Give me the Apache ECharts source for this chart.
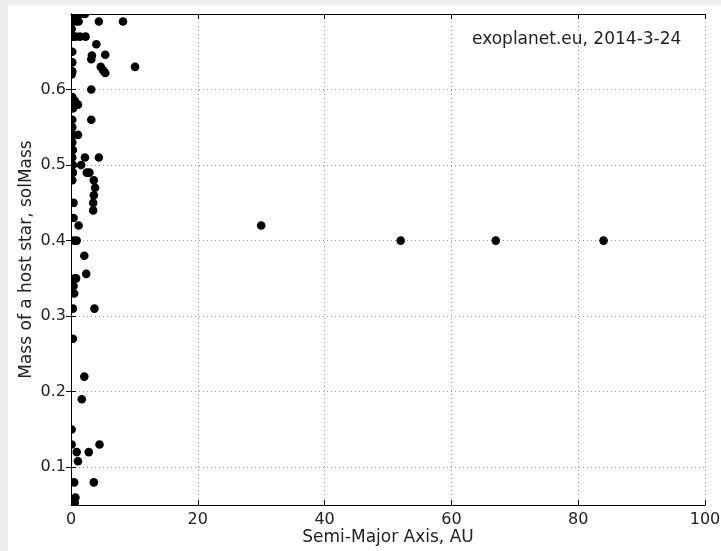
<!DOCTYPE html>
<html>
<head>
<meta charset="utf-8">
<script src="https://cdn.jsdelivr.net/npm/echarts@6/dist/echarts.min.js"></script>
<style>
html,body{margin:0;padding:0;background:#eeeeee;width:721px;height:551px;overflow:hidden;}
#c{position:absolute;left:8px;top:5px;width:713px;height:546px;background:#fff;}
</style>
</head>
<body>
<div id="c"></div>
<script>
// Semi-major axis (AU) and host star mass (solMass)
const semiMajorAxis = [
  0.2,0.8,1.5,2.2,
  0.3,0.8,1.2,4.4,8.2,
  0.1,
  0.3,0.7,1.4,2.3,
  4.0,
  0.2,3.3,5.4,3.2,
  0.2,4.7,10.1,5.1,5.4,0.2,
  0.1,
  3.2,
  0.2,0.6,1.1,0.3,
  3.2,0.2,0.2,
  1.1,0.3,0.2,0.3,
  2.2,4.4,0.2,
  1.6,0.3,
  2.5,2.9,0.3,
  3.6,0.2,
  3.8,
  3.6,
  3.5,0.4,
  3.5,
  0.4,
  1.2,30,
  0.4,0.9,52,67,84,
  2.1,
  2.4,
  0.6,0.8,
  0.4,0.5,
  0.3,3.7,
  0.3,
  2.1,
  1.7,
  0.1,
  0.1,4.5,
  0.9,2.8,
  1.1,
  0.5,3.6,
  0.7,0.6
];
const starMass = [
  0.70,0.70,0.70,0.70,
  0.69,0.69,0.69,0.69,0.69,
  0.68,
  0.67,0.67,0.67,0.67,
  0.66,
  0.65,0.645,0.646,0.64,
  0.636,0.63,0.63,0.625,0.622,0.624,
  0.62,
  0.60,
  0.59,0.585,0.58,0.575,
  0.56,0.56,0.55,
  0.54,0.54,0.53,0.52,
  0.51,0.51,0.51,
  0.50,0.50,
  0.49,0.49,0.49,
  0.48,0.48,
  0.47,
  0.46,
  0.45,0.45,
  0.44,
  0.43,
  0.42,0.42,
  0.40,0.40,0.40,0.40,0.40,
  0.38,
  0.356,
  0.35,0.35,
  0.34,0.33,
  0.31,0.31,
  0.27,
  0.22,
  0.19,
  0.15,
  0.13,0.13,
  0.12,0.12,
  0.108,
  0.08,0.08,
  0.06,0.053
];
const xTicks = [0,20,40,60,80,100];
const yTicks = [0.1,0.2,0.3,0.4,0.5,0.6];
const annotation = 'exoplanet.eu, 2014-3-24';

const points = semiMajorAxis.map((x,i)=>[x, starMass[i]]);
const FONT = 'DejaVu Sans';
const TXT = '#222';
const grid = {left:63, top:9, right:16, bottom:46};

const chart = echarts.init(document.getElementById('c'), null, {renderer:'canvas'});
const axisLineStyle = {show:true, lineStyle:{color:'#000', width:1}};
const tick = {show:true, inside:true, length:5, lineStyle:{color:'#000', width:1}};
const split = {show:true, lineStyle:{color:'#999', width:1, type:[1,3]}};

chart.setOption({
  animation:false,
  backgroundColor:'#fff',
  grid:{...grid, show:false, containLabel:false, outerBoundsMode:'none'},
  xAxis:[{
    type:'value', min:0, max:100, interval:20, position:'bottom',
    axisLine:axisLineStyle, axisTick:tick, splitLine:split,
    axisLabel:{color:TXT, fontFamily:FONT, fontSize:16, margin:7, customValues:xTicks},
    name:'Semi-Major Axis, AU', nameLocation:'middle', nameGap:24, nameMoveOverlap:false,
    nameTextStyle:{color:TXT, fontFamily:FONT, fontSize:17}
  },{
    type:'value', min:0, max:100, interval:20, position:'top',
    axisLine:axisLineStyle, axisTick:tick, splitLine:{show:false},
    axisLabel:{show:false}
  }],
  yAxis:[{
    type:'value', min:0.05, max:0.70, position:'left',
    axisLine:axisLineStyle,
    axisTick:{...tick, customValues:yTicks},
    splitLine:split,
    axisLabel:{color:TXT, fontFamily:FONT, fontSize:16, margin:5, customValues:yTicks,
      formatter:v=>v.toFixed(1)},
    name:'Mass of a host star, solMass', nameLocation:'middle', nameGap:36, nameMoveOverlap:false,
    nameTextStyle:{color:TXT, fontFamily:FONT, fontSize:17}
  },{
    type:'value', min:0.05, max:0.70, position:'right',
    axisLine:axisLineStyle,
    axisTick:{...tick, customValues:yTicks},
    splitLine:{show:false},
    axisLabel:{show:false}
  }],
  graphic:[{
    type:'text', left:464, top:26,
    style:{text:annotation, fill:TXT, font:'17px "DejaVu Sans"'}
  }],
  series:[{
    type:'custom',
    clip:true,
    data:points,
    renderItem:function(params, api){
      const p = api.coord([api.value(0), api.value(1)]);
      return {type:'circle', shape:{cx:p[0], cy:p[1], r:4.3}, style:{fill:'#000'}};
    },
    z:3
  }]
});
</script>
</body>
</html>
